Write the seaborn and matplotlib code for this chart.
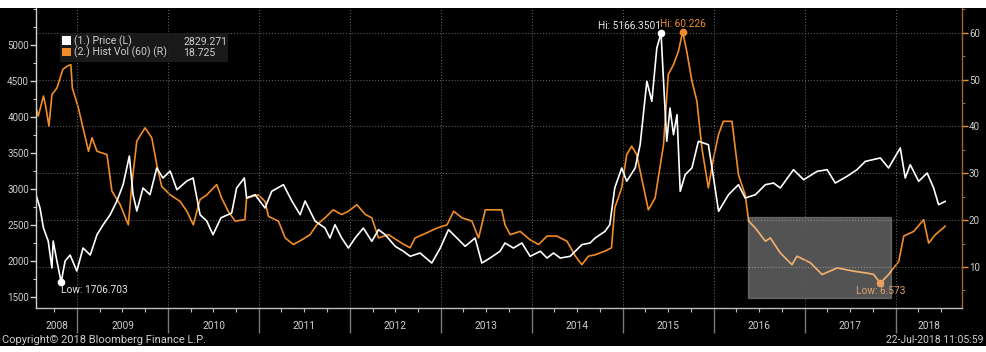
import pandas as pd
import numpy as np
import matplotlib
matplotlib.use("Agg")
import matplotlib.pyplot as plt
import matplotlib.dates as mdates
import matplotlib.ticker as mticker
import matplotlib.transforms as mtransforms
from matplotlib.patches import Patch, Rectangle
import seaborn as sns

# Preço (eixo esquerdo)
price_dates = [
    "2008-07-19", "2008-08-04", "2008-08-18", "2008-09-06", "2008-09-21", "2008-09-26",
    "2008-10-11", "2008-10-28", "2008-11-13", "2008-12-03", "2008-12-30",
    "2009-01-24", "2009-02-22", "2009-03-21", "2009-04-15", "2009-05-13", "2009-06-09",
    "2009-07-04", "2009-07-29", "2009-08-13", "2009-08-28", "2009-09-22", "2009-10-20",
    "2009-11-16", "2009-12-11",
    "2010-01-09", "2010-02-05", "2010-03-17", "2010-04-11", "2010-05-09", "2010-06-05",
    "2010-06-30", "2010-08-01", "2010-09-13", "2010-10-03", "2010-11-03", "2010-11-12",
    "2010-12-16",
    "2011-01-25", "2011-02-21", "2011-04-09", "2011-05-13", "2011-06-15", "2011-07-05",
    "2011-08-14", "2011-09-23", "2011-10-13", "2011-11-02", "2011-11-29", "2011-12-26",
    "2012-01-22", "2012-02-24", "2012-03-29", "2012-04-25", "2012-05-22", "2012-07-01",
    "2012-08-03", "2012-08-30", "2012-10-09", "2012-11-25", "2012-12-29",
    "2013-01-31", "2013-03-06", "2013-04-08", "2013-05-18", "2013-06-14", "2013-07-17",
    "2013-08-26", "2013-09-15", "2013-10-19", "2013-11-22", "2013-12-25",
    "2014-02-04", "2014-03-03", "2014-03-29", "2014-04-25", "2014-06-04", "2014-07-21",
    "2014-08-23", "2014-09-12", "2014-10-22", "2014-11-10", "2014-11-30", "2014-12-28",
    "2015-01-17", "2015-02-20", "2015-03-12", "2015-04-08", "2015-04-28", "2015-05-18",
    "2015-06-04", "2015-06-14", "2015-06-27", "2015-07-10", "2015-07-24", "2015-08-07",
    "2015-08-20", "2015-09-09", "2015-10-06", "2015-11-01", "2015-12-11",
    "2016-01-01", "2016-01-21", "2016-03-01", "2016-04-10", "2016-05-07", "2016-06-17",
    "2016-07-27", "2016-08-29", "2016-09-25", "2016-11-17", "2016-12-28",
    "2017-02-20", "2017-04-01", "2017-05-04", "2017-06-20", "2017-07-30", "2017-09-02",
    "2017-11-01", "2017-12-04",
    "2018-01-20", "2018-02-09", "2018-03-01", "2018-04-04", "2018-05-08", "2018-06-03",
    "2018-06-23", "2018-07-20",
]
price_values = [
    2920, 2736, 2458, 2278, 1903, 2278,
    2000, 1706.703, 2000, 2083, 1861,
    2180, 2083, 2365, 2504, 2643, 2833,
    3060, 3458, 2921, 2694, 3014, 2921,
    3292, 3153,
    3250, 2990, 3111, 3153, 2643, 2555,
    2365, 2600, 2666, 3014, 3153, 2875,
    2921,
    2736, 2968, 3060, 2833, 2643, 2833,
    2555, 2458, 2319, 2504, 2319, 2180,
    2319, 2458, 2273, 2435, 2365, 2204,
    2135, 2065, 2111, 1972, 2180,
    2435, 2319, 2204, 2319, 1972, 2041,
    2135, 2250, 2180, 2250, 2065,
    2135, 2041, 2111, 2041, 2065, 2227,
    2250, 2319, 2412, 2504, 3014, 3292,
    3107, 3292, 3616, 4496, 4218, 4958,
    5166.3501, 4496, 3663, 4125, 3754, 4032,
    2968, 3199, 3292, 3663, 3616,
    3153, 2690, 2921, 3060, 2875, 2921,
    3060, 3083, 3014, 3268, 3129,
    3245, 3268, 3083, 3176, 3268, 3384,
    3431, 3292,
    3570, 3153, 3338, 3107, 3222, 3014,
    2782, 2829.271,
]

# Volatilidade histórica 60 dias (eixo direito)
vol_dates = [
    "2008-07-19", "2008-07-28", "2008-08-18", "2008-08-27", "2008-09-09", "2008-09-21",
    "2008-10-11", "2008-11-04", "2008-11-22", "2008-12-06", "2008-12-12",
    "2009-01-05", "2009-01-24", "2009-02-15", "2009-03-01", "2009-03-21", "2009-04-30",
    "2009-05-20", "2009-06-22", "2009-07-25", "2009-08-08", "2009-08-28", "2009-09-30",
    "2009-10-27", "2009-11-16", "2009-12-06",
    "2010-01-09", "2010-02-18", "2010-03-17", "2010-04-12", "2010-05-09", "2010-06-05",
    "2010-07-15", "2010-08-04", "2010-08-30", "2010-09-27", "2010-11-05", "2010-11-12",
    "2010-12-29",
    "2011-01-25", "2011-02-08", "2011-03-20", "2011-04-16", "2011-05-19", "2011-06-22",
    "2011-07-25", "2011-08-21", "2011-09-23", "2011-10-26", "2011-11-29", "2011-12-26",
    "2012-01-29", "2012-03-03", "2012-03-29", "2012-04-25", "2012-06-04", "2012-07-27",
    "2012-08-30", "2012-09-19", "2012-11-05", "2012-12-15",
    "2013-01-25", "2013-02-21", "2013-03-26", "2013-05-05", "2013-06-01", "2013-06-28",
    "2013-07-31", "2013-09-02", "2013-09-15", "2013-10-06", "2013-11-15", "2013-12-25",
    "2014-01-28", "2014-03-03", "2014-04-11", "2014-05-22", "2014-06-25", "2014-07-21",
    "2014-08-16", "2014-09-12", "2014-10-22", "2014-11-17", "2014-11-30", "2014-12-28",
    "2015-01-17", "2015-02-06", "2015-02-26", "2015-03-18", "2015-04-14", "2015-05-11",
    "2015-06-14", "2015-07-03", "2015-07-24", "2015-08-13", "2015-08-30", "2015-09-15",
    "2015-10-06", "2015-10-26", "2015-11-15", "2015-12-11",
    "2016-01-01", "2016-01-21", "2016-02-09", "2016-03-15", "2016-04-10", "2016-05-07",
    "2016-05-21", "2016-06-17", "2016-07-27", "2016-08-16", "2016-09-25", "2016-11-11",
    "2016-12-01",
    "2017-01-24", "2017-03-12", "2017-05-12", "2017-07-17", "2017-09-08", "2017-10-05",
    "2017-11-01", "2017-12-04",
    "2018-01-14", "2018-02-03", "2018-03-15", "2018-04-24", "2018-05-14", "2018-06-10",
    "2018-07-20",
]
vol_values = [
    44.0, 42.2, 46.5, 44.3, 40.1, 46.8,
    48.2, 52.2, 52.9, 53.2, 48.2,
    44.0, 39.7, 34.7, 37.6, 34.7, 34.0,
    26.2, 23.3, 19.0, 27.6, 36.9, 39.7,
    37.6, 31.9, 27.2,
    25.4, 24.0, 21.9, 19.0, 24.4, 25.4,
    27.6, 24.7, 21.9, 19.8, 20.1, 24.7,
    25.4,
    24.0, 20.8, 19.8, 16.2, 14.8, 15.8,
    16.9, 19.0, 20.5, 22.2, 21.2, 21.9,
    23.3, 21.2, 20.5, 16.2, 16.9, 15.1,
    14.1, 16.2, 17.3, 18.3,
    19.0, 21.9, 20.5, 19.8, 16.2, 22.2,
    22.2, 22.2, 19.0, 16.9, 17.6, 15.8,
    14.8, 16.6, 16.6, 15.5, 12.3, 10.5,
    12.3, 12.6, 13.4, 14.1, 22.6, 26.9,
    34.0, 35.8, 34.0, 29.0, 22.2, 24.7,
    36.1, 51.1, 53.2, 56.1, 60.226, 56.1,
    49.7, 45.4, 35.4, 26.9,
    33.3, 38.3, 41.1, 41.1, 29.7, 25.4,
    19.8, 18.3, 15.5, 16.2, 13.0, 10.5,
    12.3,
    10.9, 8.4, 9.8, 9.1, 8.7, 8.4,
    6.573, 8.4,
    11.2, 16.6, 17.6, 20.1, 15.1, 16.9,
    18.725,
]

legend_names = ["(1.) Price (L)", "(2.) Hist Vol (60) (R)"]
legend_last = ["2829.271", "18.725"]
price_hi_label = "Hi: 5166.3501"
price_lo_label = "Low: 1706.703"
vol_hi_label = "Hi: 60.226"
vol_lo_label = "Low: 6.573"

price_ticks = [1500, 2000, 2500, 3000, 3500, 4000, 4500, 5000]
vol_ticks = [10, 20, 30, 40, 50, 60]
years = list(range(2008, 2019))

# Caixa destacada (datas e faixa da volatilidade)
box_start, box_end = "2016-05-18", "2017-12-13"
box_low, box_high = 3.3, 20.6

x_start, x_end = "2008-07-19", "2018-09-25"

copyright_text = "Copyright\u00a9 2018 Bloomberg Finance L.P."
stamp_text = "22-Jul-2018 11:05:59"

WHITE = "#ffffff"
ORANGE = "#f08c2a"
LABEL = "#cfcfcf"
GRID = "#5a5a5a"

price_df = pd.DataFrame({"date": pd.to_datetime(price_dates), "price": price_values})
vol_df = pd.DataFrame({"date": pd.to_datetime(vol_dates), "vol": vol_values})

sns.set_style("dark", {"axes.facecolor": "black", "figure.facecolor": "black"})
plt.rcParams["font.family"] = ["Roboto", "DejaVu Sans"]

W, H = 986, 352
fig = plt.figure(figsize=(W / 100, H / 100), dpi=100, facecolor="black")
# faixas brancas em cima e embaixo
fig.patches.append(Rectangle((0, 1 - 7.5 / H), 1, 7.5 / H, transform=fig.transFigure,
                             facecolor="white", edgecolor="none", zorder=10))
fig.patches.append(Rectangle((0, 0), 1, 6 / H, transform=fig.transFigure,
                             facecolor="white", edgecolor="none", zorder=10))

ax = fig.add_axes([36 / W, (H - 307.5) / H, 926 / W, 300 / H])
ax2 = ax.twinx()
ax.set_zorder(ax2.get_zorder() + 1)
ax.patch.set_visible(False)
ax2.patch.set_facecolor("black")

sns.lineplot(data=vol_df, x="date", y="vol", ax=ax2, color=ORANGE, linewidth=1.2)
sns.lineplot(data=price_df, x="date", y="price", ax=ax, color=WHITE, linewidth=1.2)

ax.set_xlim(pd.Timestamp(x_start), pd.Timestamp(x_end))
ax.set_ylim(1354, 5521)
ax2.set_ylim(1.35, 65.4)
for a in (ax, ax2):
    a.set_xlabel("")
    a.set_ylabel("")

# eixos / spines
for s in ("top", "right"):
    ax.spines[s].set_visible(False)
for s in ("top", "left", "bottom"):
    ax2.spines[s].set_visible(False)
ax.spines["left"].set_color("#d0d0d0")
ax.spines["bottom"].set_color("#bdbdbd")
ax2.spines["right"].set_color("#9a6634")
for sp in (ax.spines["left"], ax.spines["bottom"], ax2.spines["right"]):
    sp.set_visible(True)
    sp.set_linewidth(1.0)

ax.yaxis.set_major_locator(mticker.FixedLocator(price_ticks))
ax.yaxis.set_minor_locator(mticker.MultipleLocator(250))
ax.tick_params(axis="y", which="major", left=True, length=4, width=1, color="#d0d0d0",
               labelcolor=LABEL, labelsize=7, pad=1)
ax.tick_params(axis="y", which="minor", left=True, length=2, width=0.8, color="#d0d0d0")

ax2.yaxis.set_major_locator(mticker.FixedLocator(vol_ticks))
ax2.yaxis.set_minor_locator(mticker.MultipleLocator(5))
ax2.tick_params(axis="y", which="major", right=True, length=4, width=1, color=ORANGE,
                labelcolor=LABEL, labelsize=7, pad=1)
ax2.tick_params(axis="y", which="minor", right=True, length=2, width=0.8, color="#9a6634")

ax.xaxis.set_major_locator(mdates.YearLocator())
ax.xaxis.set_major_formatter(mticker.NullFormatter())
ax.xaxis.set_minor_locator(mdates.MonthLocator(bymonth=[4, 7, 10]))
ax.tick_params(axis="x", which="major", bottom=True, length=18, width=1, color="#7a7a7a")
ax.tick_params(axis="x", which="minor", bottom=True, length=3, width=0.8, color="#bdbdbd")

# grades pontilhadas
ax.grid(False)
ax2.grid(False)
ax.xaxis.grid(True, which="major", color=GRID, linestyle=":", linewidth=0.8)
ax2.yaxis.grid(True, which="major", color=GRID, linestyle=":", linewidth=0.8)

# rótulos dos anos no centro do trecho visível
xmin, xmax = ax.get_xlim()
trans = mtransforms.blended_transform_factory(ax.transData, ax.transAxes)
for y in years:
    a0 = max(mdates.date2num(pd.Timestamp(f"{y}-01-01")), xmin)
    a1 = min(mdates.date2num(pd.Timestamp(f"{y + 1}-01-01")), xmax)
    ax.text((a0 + a1) / 2, -0.062, str(y), transform=trans, ha="center", va="center",
            color=LABEL, fontsize=7.3)

# caixa destacada
b0 = mdates.date2num(pd.Timestamp(box_start))
b1 = mdates.date2num(pd.Timestamp(box_end))
ax2.add_patch(Rectangle((b0, box_low), b1 - b0, box_high - box_low, facecolor="white",
                        alpha=0.33, edgecolor="#d8d8d8", linewidth=1.0, zorder=4))

# máximos e mínimos
p_hi = price_df.loc[price_df["price"].idxmax()]
p_lo = price_df.loc[price_df["price"].idxmin()]
v_hi = vol_df.loc[vol_df["vol"].idxmax()]
v_lo = vol_df.loc[vol_df["vol"].idxmin()]

ax.plot(p_hi["date"], p_hi["price"], "o", color=WHITE, ms=4.5, zorder=6)
ax.plot(p_lo["date"], p_lo["price"], "o", color=WHITE, ms=4.5, zorder=6)
ax2.plot(v_hi["date"], v_hi["vol"], "o", color=ORANGE, ms=4.5, zorder=6)
ax2.plot(v_lo["date"], v_lo["vol"], "o", color="#e9a060", ms=4.5, zorder=6)

ax.annotate(price_hi_label, (p_hi["date"], p_hi["price"]), xytext=(0, 5),
            textcoords="offset points", ha="right", va="center", color="#e6e6e6", fontsize=7.3)
ax.annotate(price_lo_label, (p_lo["date"], p_lo["price"]), xytext=(0, -6),
            textcoords="offset points", ha="left", va="center", color="#e6e6e6", fontsize=7.3)
ax2.annotate(vol_hi_label, (v_hi["date"], v_hi["vol"]), xytext=(-16, 5.5),
             textcoords="offset points", ha="left", va="center", color=ORANGE, fontsize=7.3)
ax2.annotate(vol_lo_label, (v_lo["date"], v_lo["vol"]), xytext=(0, -6),
             textcoords="offset points", ha="center", va="center", color="#e0a068",
             fontsize=7.3, zorder=6)

# legenda no estilo Bloomberg
lx0, lx1 = (60 - 36) / 926, (228 - 36) / 926
ly0, ly1 = (307.5 - 62) / 300, (307.5 - 33) / 300
ax.add_patch(Rectangle((lx0, ly0), lx1 - lx0, ly1 - ly0, transform=ax.transAxes,
                       facecolor="#1c1c1c", edgecolor="none", alpha=0.9, zorder=7))
handles = [Patch(facecolor=WHITE, edgecolor="none"), Patch(facecolor=ORANGE, edgecolor="none")]
leg = ax.legend(handles, legend_names, loc="upper left", bbox_to_anchor=(lx0, ly1),
                frameon=False, fontsize=7.6, labelcolor=LABEL, handlelength=0.85,
                handleheight=0.85, handletextpad=0.3, labelspacing=0.0,
                borderpad=0.2, borderaxespad=0)
leg.set_zorder(8)

# valores da última observação alinhados com as linhas da legenda
fig.canvas.draw()
renderer = fig.canvas.get_renderer()
inv = fig.transFigure.inverted()
for txt, val in zip(leg.get_texts(), legend_last):
    bb = txt.get_window_extent(renderer)
    fx, fy = inv.transform((183, bb.y0))
    fig.text(fx, fy, val, ha="left", va="bottom", color=LABEL, fontsize=7.6, zorder=9)

fig.text(2 / W, (H - 340) / H, copyright_text, ha="left", va="center", color=LABEL, fontsize=8)
fig.text(983 / W, (H - 340) / H, stamp_text, ha="right", va="center", color=LABEL, fontsize=7.5)

plt.savefig("out.png", dpi=100, facecolor=fig.get_facecolor())
